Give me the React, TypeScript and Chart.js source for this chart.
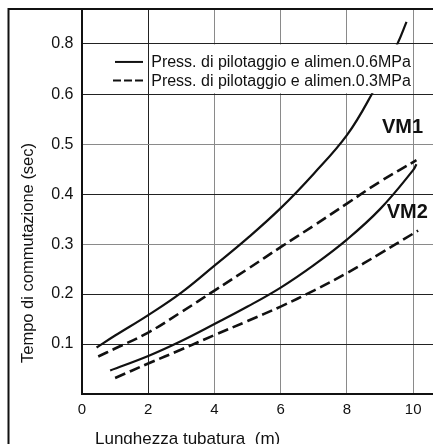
import React, { useEffect, useRef } from "react";
import { Chart, registerables, LinearScale } from "chart.js";

Chart.register(...registerables);

// ---- data ----
const X_TICKS = [0, 2, 4, 6, 8, 10];
const Y_TICKS = [0.1, 0.2, 0.3, 0.4, 0.5, 0.6, 0.8];

const VM1_HI_X = [0.44, 1, 2, 3, 4, 5, 6, 7, 8, 8.75, 9.53, 9.8];
const VM1_HI_Y = [0.093, 0.117, 0.158, 0.203, 0.257, 0.312, 0.372, 0.441, 0.518, 0.6, 0.8, 0.885];

const VM1_LO_X = [0.49, 1, 2, 3, 4, 5, 6, 7, 8, 9, 10.1];
const VM1_LO_Y = [0.075, 0.091, 0.123, 0.164, 0.207, 0.25, 0.294, 0.337, 0.381, 0.425, 0.468];

const VM2_HI_X = [0.85, 2, 3, 4, 5, 6, 7, 8, 9, 10, 10.1];
const VM2_HI_Y = [0.047, 0.076, 0.106, 0.14, 0.175, 0.213, 0.258, 0.309, 0.37, 0.448, 0.46];

const VM2_LO_X = [1.0, 2, 3, 4, 5, 6, 7, 8, 9, 10, 10.15];
const VM2_LO_Y = [0.032, 0.061, 0.089, 0.118, 0.146, 0.175, 0.207, 0.242, 0.281, 0.321, 0.327];

const LEGEND_LABELS = [
  "Press. di pilotaggio e alimen.0.6MPa",
  "Press. di pilotaggio e alimen.0.3MPa",
];
const CURVE_LABELS = ["VM1", "VM2"];
const X_TITLE = "Lunghezza tubatura  (m)";
const Y_TITLE = "Tempo di commutazione (sec)";

// ---- broken (compressed above 0.6) y scale ----
const BREAK = 0.6;
const COMPRESS = 0.508;
const toT = (v: number) => (v <= BREAK ? v : BREAK + (v - BREAK) * COMPRESS);
const fromT = (t: number) => (t <= BREAK ? t : BREAK + (t - BREAK) / COMPRESS);

class BrokenScale extends LinearScale {
  static id = "broken";
  getPixelForValue(value: any) {
    if (value === null || value === undefined || isNaN(value)) return NaN;
    const a = toT(this.min), b = toT(this.max);
    return this.getPixelForDecimal((toT(value) - a) / (b - a));
  }
  getValueForPixel(pixel: number) {
    const a = toT(this.min), b = toT(this.max);
    return fromT(a + this.getDecimalForPixel(pixel) * (b - a));
  }
}
Chart.register(BrokenScale as any);

const pts = (xs: number[], ys: number[]) => xs.map((x, i) => ({ x, y: ys[i] }));

const FONT = "'Liberation Sans', Arial, Helvetica, sans-serif";
const INK = "#111";

const overlay = {
  id: "overlay",
  afterDatasetsDraw(chart: any) {
    const { ctx, scales } = chart;
    const x = scales.x, y = scales.y;
    // legend box (white) between 0.6 and 0.8 rows
    const bx1 = x.getPixelForValue(2) + 1;
    const bx2 = x.getPixelForValue(10) - 1;
    const by1 = y.getPixelForValue(0.8) + 1;
    const by2 = y.getPixelForValue(0.6) - 1;
    ctx.save();
    ctx.fillStyle = "#fff";
    ctx.fillRect(bx1, by1, bx2 - bx1, by2 - by1);
    const lx1 = chart.chartArea.left + 33;
    const lx2 = chart.chartArea.left + 61;
    const rows = [by1 + 17.5, by1 + 36];
    ctx.strokeStyle = INK;
    ctx.lineWidth = 2;
    ctx.setLineDash([]);
    ctx.beginPath();
    ctx.moveTo(lx1, rows[0]);
    ctx.lineTo(lx2, rows[0]);
    ctx.stroke();
    ctx.setLineDash([8, 3]);
    ctx.beginPath();
    ctx.moveTo(lx1 - 2, rows[1]);
    ctx.lineTo(lx2, rows[1]);
    ctx.stroke();
    ctx.setLineDash([]);
    ctx.fillStyle = INK;
    ctx.font = `16px ${FONT}`;
    ctx.textAlign = "left";
    ctx.textBaseline = "alphabetic";
    ctx.fillText(LEGEND_LABELS[0], bx1 + 2, rows[0] + 5.5);
    ctx.fillText(LEGEND_LABELS[1], bx1 + 2, rows[1] + 6);
    // curve labels
    ctx.font = `bold 20px ${FONT}`;
    ctx.textBaseline = "middle";
    ctx.fillText(CURVE_LABELS[0], x.getPixelForValue(9.06), y.getPixelForValue(0.534));
    ctx.fillText(CURVE_LABELS[1], x.getPixelForValue(9.2), y.getPixelForValue(0.364));
    ctx.restore();
  },
  afterDraw(chart: any) {
    const { ctx, chartArea } = chart;
    ctx.save();
    // frame
    ctx.strokeStyle = INK;
    ctx.lineWidth = 2;
    ctx.beginPath();
    ctx.moveTo(8.5, chart.height + 2);
    ctx.lineTo(8.5, chartArea.top);
    ctx.lineTo(chart.width + 2, chartArea.top);
    ctx.stroke();
    // axis titles
    ctx.fillStyle = INK;
    ctx.font = `17px ${FONT}`;
    ctx.textAlign = "left";
    ctx.textBaseline = "alphabetic";
    ctx.fillText(X_TITLE, 95, 443.5);
    ctx.translate(33, 253);
    ctx.rotate(-Math.PI / 2);
    ctx.font = `16.5px ${FONT}`;
    ctx.textAlign = "center";
    ctx.fillText(Y_TITLE, 0, 0);
    ctx.restore();
  },
};

const DARK_Y = [0.1, 0.2, 0.4, 0.6, 0.8];
const DARK_X = [0, 2];

const zeroPad = (s: any) => {
  s.paddingTop = 0;
  s.paddingBottom = 0;
  s.paddingLeft = 0;
  s.paddingRight = 0;
};

export default function App() {
  const ref = useRef<HTMLCanvasElement>(null);
  useEffect(() => {
    document.body.style.margin = "0";
    const line = (data: any, dashed: boolean) => ({
      data,
      borderColor: INK,
      borderWidth: dashed ? 2.6 : 2.2,
      borderDash: dashed ? [11, 5] : [],
      pointRadius: 0,
      fill: false,
      tension: 0.4,
    });
    const chart = new Chart(ref.current!, {
      type: "line",
      data: {
        datasets: [
          line(pts(VM1_HI_X, VM1_HI_Y), false),
          line(pts(VM1_LO_X, VM1_LO_Y), true),
          line(pts(VM2_HI_X, VM2_HI_Y), false),
          line(pts(VM2_LO_X, VM2_LO_Y), true),
        ],
      },
      options: {
        animation: false,
        responsive: false,
        layout: { padding: { left: 0, top: 9, right: 0, bottom: 0 } },
        plugins: { legend: { display: false }, tooltip: { enabled: false }, title: { display: false } },
        scales: {
          x: {
            type: "linear",
            min: 0,
            max: 10.6,
            afterBuildTicks: (s: any) => {
              s.ticks = X_TICKS.map((v) => ({ value: v }));
            },
            afterFit: (s: any) => {
              s.height = 50;
              zeroPad(s);
            },
            border: { color: INK, width: 2 },
            grid: {
              drawTicks: false,
              lineWidth: 1,
              color: (c: any) => (DARK_X.includes(c.tick?.value) ? "#222" : "#8a8a8a"),
            },
            ticks: {
              padding: 7,
              color: INK,
              font: { family: FONT, size: 15 },
              callback: (v: any) => String(v),
            },
          },
          y: {
            type: "broken" as any,
            min: 0,
            max: 0.9357,
            afterBuildTicks: (s: any) => {
              s.ticks = Y_TICKS.map((v) => ({ value: v }));
            },
            afterFit: (s: any) => {
              s.width = 82;
              zeroPad(s);
            },
            border: { color: INK, width: 2 },
            grid: {
              drawTicks: false,
              lineWidth: 1,
              color: (c: any) => (DARK_Y.includes(c.tick?.value) ? "#222" : "#8a8a8a"),
            },
            ticks: {
              padding: 8.5,
              color: INK,
              font: { family: FONT, size: 16 },
              callback: (v: any) => Number(v).toFixed(1),
            },
          },
        },
      },
      plugins: [overlay],
    } as any);
    return () => chart.destroy();
  }, []);
  return (
    <div style={{ position: "absolute", left: 0, top: 0, width: 433, height: 444, background: "#fff" }}>
      <canvas ref={ref} width={433} height={444} style={{ width: 433, height: 444, display: "block" }} />
    </div>
  );
}
